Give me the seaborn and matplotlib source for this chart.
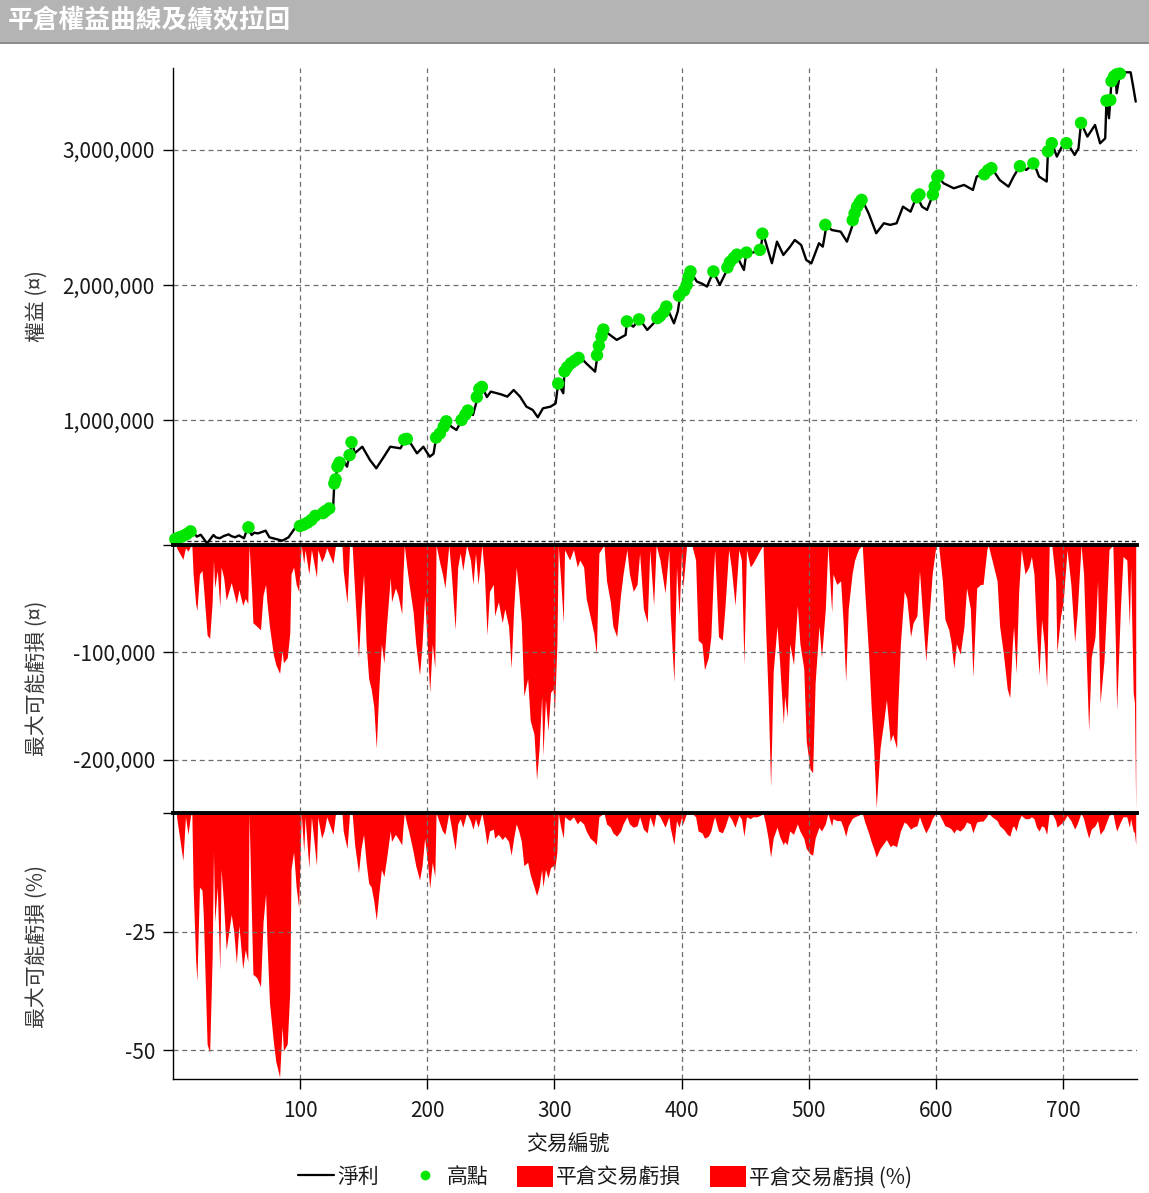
import matplotlib
matplotlib.use("Agg")
import matplotlib.pyplot as plt
from matplotlib.lines import Line2D
from matplotlib.patches import Patch, Rectangle
from matplotlib.ticker import FuncFormatter
import pandas as pd
import seaborn as sns

# ── DATA ──────────────────────────────────────────────────────
equity_trade = [2, 5, 10, 15, 19, 22, 27, 32, 34, 37, 40, 44, 46, 49, 52, 56, 59, 62, 64, 67,
                73, 76, 82, 86, 88, 91, 96, 100, 104, 108, 113, 118, 124, 126, 127, 128, 130, 134, 137, 139,
                141, 143, 149, 155, 160, 166, 171, 179, 183, 187, 192, 197, 202, 205, 207, 212, 215, 219, 223, 228,
                232, 236, 240, 243, 247, 250, 255, 258, 263, 268, 273, 278, 283, 287, 291, 297, 301, 303, 307, 308,
                312, 316, 320, 325, 332, 334, 336, 339, 342, 349, 356, 357, 362, 367, 373, 378, 382, 385, 388, 394,
                397, 399, 404, 407, 412, 416, 420, 425, 430, 437, 440, 443, 449, 451, 456, 462, 464, 471, 475, 480,
                485, 489, 494, 498, 502, 508, 511, 514, 518, 525, 530, 534, 535, 538, 542, 547, 553, 559, 564, 569,
                574, 580, 585, 589, 593, 598, 601, 606, 614, 622, 629, 632, 639, 644, 650, 657, 661, 666, 671, 677,
                681, 687, 688, 691, 695, 699, 703, 709, 712, 714, 719, 725, 729, 733, 734, 736, 738, 741, 742, 745,
                749, 753, 755, 757]
equity_value = [116000, 135000, 155000, 180000, 136000, 150000, 86000, 148000, 130000, 124000, 140000, 153000, 140000, 131000, 145000, 124000, 205000, 148000, 165000, 160000,
                180000, 131000, 116000, 106000, 115000, 131000, 198000, 215000, 230000, 260000, 304000, 284000, 346000, 340000, 531000, 568000, 679000, 704000, 654000, 741000,
                840000, 753000, 802000, 704000, 642000, 728000, 802000, 790000, 857000, 827000, 753000, 802000, 728000, 750000, 864000, 920000, 988000, 951000, 926000, 1012000,
                1074000, 1037000, 1178000, 1247000, 1170000, 1210000, 1198000, 1190000, 1173000, 1222000, 1173000, 1099000, 1074000, 1020000, 1086000, 1099000, 1123000, 1272000, 1198000, 1370000,
                1400000, 1440000, 1469000, 1420000, 1358000, 1482000, 1568000, 1679000, 1642000, 1593000, 1630000, 1729000, 1691000, 1746000, 1667000, 1716000, 1765000, 1800000, 1844000, 1716000,
                1803000, 1926000, 1988000, 2099000, 2025000, 2010000, 1988000, 2099000, 2000000, 2136000, 2180000, 2222000, 2111000, 2247000, 2240000, 2259000, 2383000, 2161000, 2321000, 2222000,
                2280000, 2333000, 2296000, 2185000, 2160000, 2309000, 2284000, 2445000, 2407000, 2395000, 2321000, 2432000, 2494000, 2560000, 2630000, 2531000, 2383000, 2457000, 2445000, 2457000,
                2580000, 2543000, 2660000, 2580000, 2556000, 2679000, 2803000, 2753000, 2716000, 2741000, 2704000, 2803000, 2827000, 2864000, 2778000, 2728000, 2803000, 2881000, 2852000, 2901000,
                2803000, 2766000, 2988000, 3054000, 2951000, 3025000, 3054000, 2963000, 3012000, 3200000, 3099000, 3185000, 3049000, 3086000, 3366000, 3235000, 3519000, 3570000, 3420000, 3585000,
                3575000, 3575000, 3469000, 3358000]

high_trade = [2, 5, 8, 11, 14, 59.5, 100, 103, 106, 109, 112, 118, 120, 123, 127, 128, 129.5, 131, 139, 140.5,
              182, 184, 207, 210, 213, 215, 227, 230, 232, 239, 241, 243, 303, 308, 310, 313, 316, 319, 333.5, 335,
              337, 338.5, 357, 366.5, 381, 383, 386, 388, 398, 402, 404, 405.5, 407, 425, 436, 438, 441, 443.5, 451, 461.5,
              463.5, 513, 534.5, 536, 538, 540, 541.5, 585, 587, 597.5, 599, 601, 602, 638, 641, 643.5, 666, 676.5, 688, 691,
              702.5, 714, 734, 737, 738, 740, 742, 744.5]
high_value = [118000, 130000, 140000, 155000, 175000, 205000, 215000, 225000, 240000, 260000, 290000, 310000, 325000, 345000, 530000, 560000, 655000, 685000, 740000, 835000,
              855000, 860000, 870000, 900000, 950000, 990000, 1000000, 1040000, 1070000, 1170000, 1230000, 1245000, 1270000, 1360000, 1390000, 1420000, 1440000, 1460000, 1480000, 1550000,
              1620000, 1670000, 1730000, 1745000, 1755000, 1770000, 1800000, 1840000, 1920000, 1960000, 2000000, 2060000, 2100000, 2100000, 2130000, 2170000, 2200000, 2225000, 2240000, 2260000,
              2380000, 2445000, 2480000, 2530000, 2580000, 2610000, 2630000, 2650000, 2670000, 2670000, 2730000, 2800000, 2810000, 2820000, 2850000, 2865000, 2880000, 2900000, 2990000, 3050000,
              3050000, 3200000, 3365000, 3370000, 3510000, 3545000, 3560000, 3565000]

dd_trade = [3, 8, 10, 12, 14, 15, 16, 18, 19, 21, 23, 24, 27, 29, 31, 32, 33, 35, 37, 38,
            40, 42, 44, 46, 48, 50, 52, 53, 55, 57, 59, 60, 62, 63, 66, 69, 71, 73, 74, 76,
            79, 81, 84, 86, 87, 90, 92, 93, 95, 97, 99, 101, 103, 104, 107, 109, 113, 114, 117, 119,
            121, 126, 128, 133, 134, 137, 139, 141, 143, 146, 148, 150, 152, 154, 156, 158, 160, 162, 164, 166,
            168, 171, 172, 175, 177, 180, 181, 182, 184, 186, 189, 191, 194, 196, 198, 200, 202, 204, 206, 207,
            210, 212, 214, 217, 219, 222, 224, 226, 228, 231, 234, 236, 238, 240, 243, 245, 247, 249, 252, 253,
            256, 259, 261, 264, 266, 268, 270, 272, 274, 276, 279, 281, 284, 286, 288, 290, 291, 293, 295, 297,
            299, 300, 302, 303, 305, 307, 308, 312, 315, 318, 320, 323, 325, 328, 331, 333, 335, 339, 341, 344,
            346, 349, 352, 354, 357, 359, 362, 365, 367, 370, 373, 375, 378, 380, 383, 387, 390, 391, 394, 396,
            398, 400, 401, 404, 408, 411, 413, 416, 418, 421, 423, 425, 426, 429, 432, 434, 437, 439, 442, 445,
            447, 449, 451, 454, 456, 459, 462, 464, 466, 468, 470, 472, 475, 477, 480, 481, 483, 485, 488, 491,
            493, 496, 498, 501, 503, 505, 508, 510, 513, 515, 517, 518, 519, 522, 525, 527, 529, 531, 534, 536,
            539, 542, 544, 547, 549, 551, 553, 556, 559, 561, 564, 566, 569, 570, 572, 575, 577, 580, 582, 585,
            587, 590, 592, 595, 597, 600, 602, 605, 607, 610, 612, 614, 616, 619, 622, 624, 627, 629, 632, 635,
            637, 640, 641, 644, 648, 650, 653, 656, 658, 660, 661, 663, 665, 667, 670, 673, 675, 677, 679, 681,
            683, 685, 687, 689, 691, 694, 695, 698, 700, 703, 706, 709, 711, 714, 716, 718, 720, 722, 725, 727,
            729, 732, 734, 736, 739, 741, 742, 745, 747, 750, 752, 753, 755, 756, 757]
dd_amount = [-2600, -13300, -2600, -5800, -1000, 0, -27000, -54500, -61000, -27000, -23700, -36700, -83800, -87000, -52900, -14000, -40000, -23700, -57800, -20500,
             -30200, -51300, -43200, -35000, -44800, -54500, -41600, -46400, -56200, -49700, -54500, 0, -43200, -72400, -75600, -78900, -46400, -36700, -52900, -75600,
             -101600, -111400, -119500, -98400, -109700, -104900, -82100, -27000, -20500, -36700, -43200, 0, -17200, -4200, -27000, -4200, -30200, -4200, -15600, -10700,
             -2600, -17200, 0, 0, -23700, -54500, 0, 0, -43200, -104900, -59400, -27000, -91900, -124400, -134100, -150300, -189300, -134100, -91900, -109700,
             -75600, -30200, -52900, -40000, -46400, -64300, -27000, 0, -20500, -38300, -62700, -91900, -121100, -91900, -46400, -91900, -137300, -91900, -114600, 0,
             -17200, -27000, -40000, 0, -27000, -78900, -20500, -7500, -23700, 0, -14000, -36700, -7500, -36700, 0, -27000, -83800, -43200, -36700, -65900,
             -52900, -72400, -59400, -75600, -114600, -59400, -20500, -43200, -72400, -140600, -124400, -163300, -176300, -218500, -189300, -140600, -195800, -143800, -173000, -137300,
             -134100, -156800, -91900, 0, -33400, -72400, -4200, -14000, -4200, -20500, -14000, -20500, -49700, -65900, -82100, -101600, -7500, 0, -33400, -52900,
             -75600, -85400, -46400, -27000, -4200, -27000, -43200, -36700, -7500, -59400, -72400, -4200, -56200, 0, -14000, -44800, -4200, -62700, -127600, -20500,
             -65900, -4200, -40000, 0, 0, -14000, -88600, -91900, -116200, -104900, -85400, -27000, -4200, -85400, -88600, -59400, -4200, -20500, -56200, -4200,
             -14000, -111400, -4200, -20500, -17200, -10700, -4200, 0, -75600, -140600, -225000, -117900, -75600, -108100, -166600, -140600, -160100, -91900, -111400, -56200,
             -91900, -114600, -182800, -208800, -212000, -127600, -75600, -104900, -59400, 0, -43200, -62700, -27000, -36700, -33400, -72400, -127600, -59400, -27000, -14000,
             -4200, 0, -43200, -101600, -150300, -189300, -244500, -189300, -163300, -143800, -182800, -176300, -189300, -150300, -91900, -43200, -49700, -85400, -72400, -65900,
             -23700, -75600, -108100, -59400, -27000, 0, 0, -33400, -69200, -78900, -91900, -114600, -91900, -101600, -75600, -40000, -59400, -122700, -40000, -36700,
             -36700, -4200, 0, -14000, -33400, -75600, -101600, -134100, -142200, -91900, -75600, -119500, -43200, -4200, -27000, -20500, -10700, -27000, -82100, -121100,
             -69200, -91900, -132500, 0, 0, -33400, -100000, -65900, -52900, -4200, -36700, -90300, -62700, 0, -27000, -101600, -173000, -104900, -85400, -33400,
             -147000, -108100, -59400, -4200, 0, -91900, -153600, -57800, -10700, -14000, -75600, -20500, -137300, -147000, -247700]
dd_pct = [-0.8, -10.0, -0.8, -4.5, -0.5, 0.0, -15.6, -31.0, -35.5, -15.6, -16.3, -21.4, -48.7, -50.6, -30.3, -8.2, -23.0, -15.6, -33.2, -11.9,
          -19.3, -28.8, -25.1, -21.4, -25.1, -31.7, -23.7, -26.6, -32.9, -28.8, -31.4, 0.0, -23.0, -34.0, -34.7, -36.6, -23.0, -17.0, -26.6, -39.9,
          -48.0, -52.4, -55.7, -45.0, -50.2, -48.7, -37.7, -11.9, -8.2, -15.6, -20.0, 0.0, -8.2, -0.8, -11.5, -0.8, -11.1, -0.8, -5.3, -3.8,
          -0.8, -4.5, 0.0, 0.0, -3.8, -7.5, 0.0, 0.0, -6.7, -12.6, -7.5, -4.5, -10.4, -14.8, -15.6, -18.5, -22.6, -17.0, -11.9, -13.4,
          -9.7, -3.8, -6.0, -4.5, -5.3, -6.7, -3.0, 0.0, -2.3, -4.5, -8.2, -11.1, -14.1, -11.1, -5.3, -9.7, -15.9, -10.4, -13.4, 0.0,
          -2.3, -3.8, -4.5, 0.0, -3.0, -7.8, -2.3, -1.2, -3.0, 0.0, -1.6, -3.4, -1.2, -3.0, 0.0, -3.0, -6.7, -3.8, -3.4, -5.3,
          -4.5, -5.6, -4.9, -6.0, -8.9, -5.3, -2.3, -3.8, -6.0, -11.1, -10.4, -13.0, -15.6, -17.4, -15.6, -11.9, -15.6, -11.9, -13.7, -11.5,
          -11.1, -12.3, -8.2, 0.0, -3.0, -5.3, -0.8, -1.6, -0.8, -2.3, -1.6, -2.3, -3.8, -5.3, -6.0, -6.7, -0.8, 0.0, -2.3, -3.0,
          -4.2, -4.9, -3.8, -2.3, -0.8, -2.3, -3.0, -2.7, -0.8, -3.4, -4.2, -0.8, -3.0, 0.0, -0.8, -3.0, -0.8, -3.0, -6.7, -1.6,
          -3.0, -0.8, -2.3, 0.0, 0.0, -0.8, -3.8, -4.2, -5.3, -4.9, -3.8, -1.6, -0.8, -3.8, -4.2, -3.0, -0.5, -1.2, -3.0, -0.5,
          -1.2, -4.9, -0.8, -1.2, -0.8, -0.8, -0.5, 0.0, -2.3, -5.3, -9.3, -5.3, -3.0, -4.9, -6.7, -6.0, -6.7, -3.8, -4.5, -2.3,
          -3.8, -5.3, -7.5, -8.6, -8.9, -5.3, -3.0, -3.8, -2.3, 0.0, -1.9, -2.7, -1.2, -1.6, -1.6, -3.0, -4.9, -2.7, -1.2, -0.8,
          -0.5, 0.0, -1.9, -4.2, -6.0, -7.5, -9.3, -7.5, -6.4, -5.6, -7.1, -6.7, -7.1, -6.0, -3.8, -1.9, -2.3, -3.4, -3.0, -2.7,
          -0.8, -3.0, -4.2, -2.7, -1.2, 0.0, 0.0, -1.6, -2.7, -3.0, -3.4, -4.2, -3.4, -3.8, -3.0, -1.9, -2.3, -4.2, -1.9, -1.7,
          -1.7, -0.7, 0.0, -0.8, -1.6, -2.7, -3.4, -4.5, -4.9, -3.0, -2.7, -3.8, -1.6, -0.5, -1.2, -1.2, -0.8, -1.2, -3.0, -3.8,
          -2.7, -3.0, -4.5, 0.0, 0.0, -1.6, -3.0, -2.3, -1.9, -0.5, -1.6, -3.4, -2.3, 0.0, -1.2, -3.4, -5.3, -3.4, -2.7, -1.6,
          -4.5, -3.4, -1.9, -0.5, 0.0, -2.7, -3.8, -1.9, -0.8, -0.8, -3.0, -1.2, -3.8, -4.2, -6.7]

x_ticks = [100, 200, 300, 400, 500, 600, 700]
equity_ticks = [1000000, 2000000, 3000000]
dd_ticks = [-200000, -100000, 0]
pct_ticks = [-50, -25, 0]

# ── STYLE ─────────────────────────────────────────────────────
sns.set_theme(style="white")
plt.rcParams["font.family"] = ["Noto Sans CJK TC", "DejaVu Sans"]

GREEN = "#00e600"
RED = "#ff0000"
GRID = "#6e6e6e"
TXT = "#1a1a1a"
LBL = "#3a3a3a"
W, H = 1149, 1193

eq = pd.DataFrame({"trade": equity_trade, "equity": equity_value})
hi = pd.DataFrame({"trade": high_trade, "equity": high_value})
dd = pd.DataFrame({"trade": dd_trade, "amount": dd_amount, "pct": dd_pct})

fig = plt.figure(figsize=(W / 100, H / 100), dpi=100)

# title bar
fig.patches.append(Rectangle((0, 1 - 43 / H), 1, 43 / H, transform=fig.transFigure,
                             facecolor="#b4b4b4", edgecolor="none", zorder=0))
fig.patches.append(Rectangle((0, 1 - 44 / H), 1, 2 / H, transform=fig.transFigure,
                             facecolor="#8c8c8c", edgecolor="none", zorder=0))
fig.text(8 / W, 1 - 21 / H, "平倉權益曲線及績效拉回", color="white", fontsize=18.5,
         fontweight="bold", va="center", ha="left")

def box(top, bottom):
    return [173 / W, 1 - bottom / H, 964 / W, (bottom - top) / H]

ax1 = fig.add_axes(box(68, 545))
ax2 = fig.add_axes(box(545, 812))
ax3 = fig.add_axes(box(813, 1079))

# ── PANEL 1: equity curve ─────────────────────────────────────
sns.lineplot(data=eq, x="trade", y="equity", ax=ax1, color="black", lw=1.7,
             estimator=None, sort=False, zorder=3)
sns.scatterplot(data=hi, x="trade", y="equity", ax=ax1, color=GREEN, s=80,
                edgecolor="none", zorder=4, clip_on=False)
ax1.axhline(100000, color="#222222", ls=(0, (3, 2)), lw=1, zorder=2)
ax1.set_ylim(74000, 3607000)
ax1.set_yticks(equity_ticks)
ax1.yaxis.set_major_formatter(FuncFormatter(lambda v, p: f"{v:,.0f}"))

# ── PANEL 2: drawdown amount ──────────────────────────────────
ax2.fill_between(dd["trade"], dd["amount"], 0, color=RED, lw=0, zorder=1)
ax2.set_ylim(-248600, 0)
ax2.set_yticks(dd_ticks)
ax2.yaxis.set_major_formatter(FuncFormatter(lambda v, p: "" if v == 0 else f"{v:,.0f}"))

# ── PANEL 3: drawdown percent ─────────────────────────────────
ax3.fill_between(dd["trade"], dd["pct"], 0, color=RED, lw=0, zorder=1)
ax3.set_ylim(-56.1, 0)
ax3.set_yticks(pct_ticks)
ax3.yaxis.set_major_formatter(FuncFormatter(lambda v, p: "" if v == 0 else f"{v:.0f}"))

labels = ["權益 (¤)", "最大可能虧損 (¤)", "最大可能虧損 (%)"]
for ax, lab in zip([ax1, ax2, ax3], labels):
    ax.set_xlim(0.2, 758)
    ax.set_xticks(x_ticks)
    ax.set_axisbelow("line")
    ax.grid(True, ls=(0, (4, 3)), color=GRID, lw=0.9)
    ax.set_xlabel("")
    ax.set_ylabel(lab, fontsize=15, color=LBL)
    ax.yaxis.set_label_coords(-0.13, 0.5)
    ax.tick_params(axis="y", left=True, direction="out", length=7, width=1,
                   color="black", labelsize=15, labelcolor=TXT, pad=6)
    ax.tick_params(axis="x", bottom=False, labelbottom=False)
    ax.spines["right"].set_visible(False)
    ax.spines["left"].set_color("black")
    ax.spines["left"].set_linewidth(1)
    ax.set_facecolor("none")

ax1.spines["top"].set_visible(False)
ax1.spines["bottom"].set_visible(False)
ax2.spines["bottom"].set_visible(False)
for ax in (ax2, ax3):
    ax.spines["top"].set_color("black")
    ax.spines["top"].set_linewidth(2.8)
ax3.spines["bottom"].set_color("black")
ax3.spines["bottom"].set_linewidth(1)
ax3.tick_params(axis="x", bottom=True, labelbottom=True, direction="out", length=7,
                width=1, color="black", labelsize=15, labelcolor=TXT, pad=8)

fig.text(568 / W, 1 - 1145 / H, "交易編號", fontsize=15, color=TXT, ha="center", va="center")

handles = [
    Line2D([0], [0], color="black", lw=1.6),
    Line2D([0], [0], marker="o", color="none", markerfacecolor=GREEN,
           markeredgecolor="none", markersize=7),
    Patch(facecolor=RED, edgecolor="none"),
    Patch(facecolor=RED, edgecolor="none"),
]
fig.legend(handles, ["淨利", "高點", "平倉交易虧損", "平倉交易虧損 (%)"],
           loc="center", bbox_to_anchor=(605 / W, 1 - 1177 / H), ncol=4, frameon=False,
           fontsize=15, handlelength=1.7, handleheight=1.2, handletextpad=0.15,
           columnspacing=1.4, labelcolor=TXT)

fig.savefig("out.png", dpi=100, facecolor="white")
